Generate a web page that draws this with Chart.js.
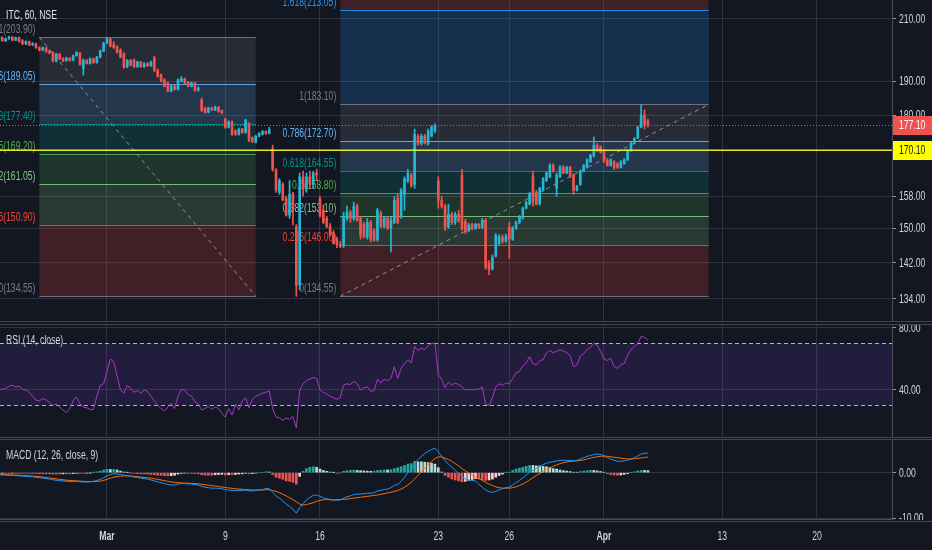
<!DOCTYPE html>
<html>
<head>
<meta charset="utf-8">
<script src="https://cdn.jsdelivr.net/npm/chart.js@4.4.0/dist/chart.umd.min.js"></script>
<style>
  html, body { margin: 0; padding: 0; background: #131722; }
  #wrap { position: relative; width: 932px; height: 550px; overflow: hidden; background: #131722;
          font-family: 'Liberation Sans', Arial, sans-serif; }
  canvas { position: absolute; left: 0; }
  .sep { position: absolute; left: 0; width: 932px; box-sizing: border-box;
         border-top: 1px solid #434651; border-bottom: 1px solid #434651; }
  .legend { position: absolute; left: 6px; color: #d1d4dc; font-size: 12px; line-height: 13px; white-space: nowrap;
            transform: scaleX(0.72); transform-origin: 0 0; }
</style>
</head>
<body>
<div id="wrap">
  <canvas id="price" width="932" height="321" style="top:0"></canvas>
  <div class="sep" style="top:321px;height:4px"></div>
  <canvas id="rsi" width="932" height="112" style="top:325px"></canvas>
  <div class="sep" style="top:437px;height:3px"></div>
  <canvas id="macd" width="932" height="110" style="top:440px"></canvas>
  <div class="sep" style="top:521px;height:1px;border-bottom:none"></div>
  <div class="legend" style="top:9px;color:#e0e3eb">ITC, 60, NSE</div>
  <div class="legend" style="top:334px">RSI (14, close)</div>
  <div class="legend" style="top:449px">MACD (12, 26, close, 9)</div>
</div>
<script>
// x axis: one unit per hourly bar, weekends and holidays skipped
const tickBars = [32, 67, 95, 130, 151, 179, 214, 242];
const tickLabels = ['Mar', '9', '16', '23', '26', 'Apr', '13', '20'];
const priceTicks = [134, 142, 150, 158, 180, 190, 210];
const rsiTicks = [40, 80];
const macdTicks = [-10, 0];

// [open, high, low, close] per bar
const ohlc = [
  [203.3,204.0,203.0,203.8],[203.8,204.1,202.6,202.8],[202.8,203.7,202.5,203.5],[203.5,204.3,203.2,204.0],[204.0,204.2,202.8,203.0],
  [203.0,204.0,202.8,203.8],[203.8,204.0,202.3,202.5],[202.8,203.2,201.5,201.8],[201.8,202.8,201.5,202.5],[202.5,202.7,201.2,201.5],
  [201.5,202.2,201.2,201.8],[201.8,202.0,200.3,200.5],[200.5,200.9,199.5,199.8],[199.8,200.8,199.6,200.5],[200.5,200.7,199.0,199.2],
  [199.4,199.8,198.6,198.8],[199.0,199.2,196.0,196.3],[196.4,198.8,196.0,198.5],[198.5,198.7,196.8,197.0],[197.0,197.4,196.1,196.4],
  [196.4,197.5,196.2,197.2],[197.2,197.4,196.3,196.5],[196.5,198.2,196.3,198.0],[198.0,199.3,197.8,199.0],[198.8,199.0,195.0,195.2],
  [194.0,197.0,191.9,196.5],[196.5,196.8,195.3,195.5],[195.5,197.3,195.3,197.0],[197.0,197.2,195.6,195.8],[195.8,197.8,195.6,197.5],
  [197.5,199.8,197.3,199.5],[199.5,202.3,199.3,202.0],[202.0,203.9,201.8,203.5],[203.3,203.8,200.8,201.0],[201.5,202.5,200.3,200.5],
  [200.8,201.2,198.8,199.0],[199.8,200.2,197.3,197.5],[198.5,199.0,194.0,194.3],[194.5,196.8,194.2,196.5],[196.5,196.8,194.8,195.0],
  [196.5,197.0,194.3,194.5],[194.5,196.3,194.3,196.0],[196.0,196.2,194.3,194.5],[194.5,195.8,194.3,195.5],[195.5,195.8,194.6,194.8],
  [194.8,196.3,194.6,196.0],[197.3,197.8,193.0,193.3],[193.5,193.8,191.3,191.5],[192.0,192.3,189.8,190.0],[190.5,190.8,188.3,188.5],
  [189.5,189.8,186.8,187.0],[187.0,188.8,186.8,188.5],[188.5,188.8,187.3,187.5],[187.5,190.8,187.3,190.5],[190.0,191.5,189.8,190.8],
  [190.8,191.0,189.3,189.5],[189.8,190.0,188.3,188.5],[188.5,189.8,188.3,189.5],[189.5,189.7,187.0,187.3],[187.3,188.3,187.0,188.0],
  [184.5,185.0,181.0,181.3],[182.0,182.3,180.5,180.8],[180.8,182.3,180.6,182.0],[182.0,182.3,181.3,181.5],[181.5,182.6,181.3,182.3],
  [182.3,182.5,180.8,181.0],[181.2,181.5,180.3,180.6],[178.8,179.2,176.2,176.5],[176.5,178.3,176.3,178.0],[178.0,178.3,174.2,174.5],
  [175.5,175.8,174.2,174.5],[174.5,176.3,174.3,176.0],[176.0,176.2,174.8,175.0],[175.0,178.8,174.8,178.5],[177.5,177.8,172.5,172.8],
  [173.5,173.8,172.2,172.5],[172.3,174.3,172.1,174.0],[174.0,175.0,173.8,174.8],[174.5,175.6,174.3,175.3],[175.3,175.5,174.5,174.8],
  [174.8,176.5,174.6,175.8],[170.5,171.5,164.5,165.0],[164.8,165.2,159.0,159.6],[159.0,162.5,158.5,162.0],[161.0,161.5,156.8,157.1],
  [157.5,158.0,153.0,153.3],[153.3,162.0,152.5,158.5],[158.5,159.0,150.9,154.6],[150.4,151.0,134.55,137.0],[137.0,164.0,136.0,163.0],
  [163.0,164.5,158.0,160.0],[160.0,164.0,159.0,163.0],[163.0,164.5,160.0,161.0],[161.0,164.5,160.0,164.0],[164.0,165.0,162.0,163.5],
  [157.3,158.0,152.8,153.1],[154.5,155.8,151.2,151.5],[152.5,153.0,150.2,150.5],[150.5,151.2,148.2,148.5],[149.0,149.5,146.3,146.5],
  [147.5,148.0,145.5,146.1],[146.2,147.0,145.5,145.8],[146.0,154.0,145.5,153.0],[152.5,155.5,152.0,154.0],[154.0,154.5,151.5,152.5],
  [152.5,156.5,152.0,155.5],[155.5,156.0,151.8,152.0],[152.5,153.0,147.5,148.3],[151.0,151.5,147.8,148.0],[148.0,152.5,147.5,151.5],
  [151.5,152.0,146.8,147.5],[149.5,150.0,147.0,147.2],[147.3,155.0,147.0,154.5],[153.8,154.3,150.2,150.5],[150.5,153.0,150.2,152.5],
  [152.5,153.0,149.8,150.0],[150.2,153.0,144.5,152.1],[151.5,158.0,151.2,157.0],[157.5,158.5,151.2,151.5],[153.0,160.0,152.5,159.5],
  [158.5,163.0,154.5,162.5],[162.0,165.0,161.5,164.0],[163.5,164.0,160.3,160.6],[161.0,176.0,160.0,174.5],[174.0,174.5,171.5,171.8],
  [172.0,174.5,171.5,174.0],[174.0,174.5,171.8,172.0],[172.0,176.0,171.5,175.5],[174.0,177.0,173.8,176.5],[175.5,177.5,175.0,177.0],
  [162.0,163.0,155.0,157.0],[157.0,158.0,155.0,155.5],[155.5,156.0,149.5,150.3],[150.5,156.0,150.0,153.5],[153.5,154.0,151.0,151.5],
  [151.5,154.0,151.0,153.5],[153.5,154.5,151.5,152.0],[163.5,165.0,149.5,150.0],[151.8,152.3,148.8,149.2],[149.5,151.3,149.2,150.8],
  [151.0,151.3,149.7,150.0],[150.0,151.3,149.8,151.0],[151.0,151.3,150.0,150.3],[150.3,152.5,150.0,152.0],[152.0,152.5,140.5,141.0],
  [142.0,142.5,139.3,140.5],[140.6,143.8,140.3,143.3],[143.5,148.8,143.3,148.3],[146.5,148.5,146.0,148.0],[148.0,148.5,146.5,147.0],
  [147.0,148.7,146.7,148.2],[150.5,151.5,143.0,147.5],[147.5,150.5,147.2,150.2],[150.0,151.8,149.8,151.5],[151.5,153.2,151.2,152.8],
  [152.5,155.3,152.3,155.0],[155.0,156.8,154.8,156.5],[156.0,159.0,155.8,158.6],[163.2,164.5,155.5,156.5],[159.0,159.5,155.8,156.0],
  [156.0,160.3,155.8,160.0],[159.5,162.8,159.3,162.5],[162.0,164.3,161.8,164.0],[163.0,166.5,162.8,166.0],[166.0,166.5,164.2,164.5],
  [160.0,164.0,158.0,163.5],[163.0,166.0,162.8,165.5],[165.5,166.0,163.8,164.0],[164.0,165.8,163.8,165.5],[165.5,165.8,162.8,163.0],
  [163.5,163.8,158.5,159.5],[159.5,160.8,159.3,160.5],[161.0,164.8,160.8,164.5],[164.5,166.3,164.3,166.0],[165.5,167.8,165.3,167.5],
  [167.0,169.0,166.8,168.8],[168.5,173.8,168.3,171.5],[171.5,172.0,169.8,170.0],[171.0,171.3,169.3,169.5],[170.0,170.3,166.8,167.0],
  [167.5,167.8,165.8,166.0],[166.0,167.8,165.8,167.5],[167.0,167.3,164.9,165.5],[166.5,166.8,165.2,165.5],[165.5,167.3,165.3,167.0],
  [166.5,167.8,166.3,167.5],[167.5,170.3,167.3,170.0],[170.0,172.3,169.8,172.0],[172.0,173.6,171.8,173.3],[173.5,176.8,173.3,176.5],
  [176.5,183.1,176.3,180.0],[180.0,181.5,176.0,177.3],[178.3,178.8,176.5,177.1]
];

const rsi = [
  40,40.5,41,42.5,43,42,42.5,40.5,40,38.5, 36,33.5,33,34.5,33.5,32,30,31,29,27,
  25.5,28,33,35.5,31,29,28.5,27.5,27.5,36, 43,44,52,60,58,49,40,38,43,41,
  38.5,39.5,38,40,39,36,33,30,28,26.5, 29,31.5,28,36,40.5,40,37,36,32.5,31,
  27,28,29.5,27.5,29,28,25,22.5,28,24, 31,27,33,35,28.5,34,36,37,38,38.5,
  39.5,28,22.5,22,20.5,22,21,23,15.5,40, 44,46,47,48,47.5,40,38.5,37.5,36,35,
  34,35,43,44,43.5,45.5,44,40,41.5,42, 39,39.5,47,44.5,47,46,47.5,55,47.5,54,
  57,59.5,57.5,68,65.5,67,66,68.5,70,70.3, 50,47,41.5,45,43,44.5,43.5,42,40,40.5,
  40,40.5,40.5,42,31,30,35,42,44,43, 44.5,44,47.5,51,52,55.5,57.5,61.5,57,56,
  59,59.5,64,65.5,64,65,66,65,64,62, 55,56,62,63.5,66,67.5,70,69,65,60,
  59,60.5,55,54,56.5,57,62.5,66,68,70, 74.5,74,72
];
const rsiBand = [30, 70];

const macdLine = [
  -0.5,-0.5,-0.55,-0.6,-0.6,-0.65,-0.7,-0.75,-0.8,-0.85, -0.9,-1.0,-1.1,-1.2,-1.3,-1.4,-1.55,-1.65,-1.75,-1.8,
  -1.9,-1.95,-1.95,-1.9,-2.0,-2.05,-2.05,-2.0,-1.9,-1.7, -1.5,-1.1,-0.7,-0.4,-0.2,-0.3,-0.4,-0.55,-0.65,-0.8,
  -0.95,-1.05,-1.2,-1.3,-1.4,-1.6,-1.8,-2.0,-2.2,-2.4, -2.6,-2.7,-2.7,-2.5,-2.4,-2.4,-2.45,-2.5,-2.6,-2.7,
  -3.0,-3.2,-3.3,-3.4,-3.4,-3.45,-3.5,-3.75,-3.8,-3.9, -3.95,-3.9,-3.9,-3.8,-4.0,-4.0,-3.9,-3.8,-3.7,-3.5,
  -3.5,-4.3,-5.1,-5.6,-6.2,-6.9,-7.4,-8.0,-8.9,-7.7, -6.8,-6.0,-5.4,-5.0,-4.9,-5.2,-5.5,-5.7,-5.9,-6.0,
  -6.0,-6.0,-5.6,-5.3,-5.1,-4.8,-4.7,-4.7,-4.6,-4.5, -4.5,-4.4,-4.0,-3.9,-3.7,-3.6,-3.3,-2.8,-2.6,-1.9,
  -1.0,0.0,0.8,2.1,2.9,3.6,4.2,4.7,5.1,5.4, 4.6,3.6,2.6,1.9,1.2,0.5,-0.2,-0.8,-1.4,-1.6,
  -1.7,-1.8,-2.5,-3.2,-3.8,-4.2,-4.3,-4.1,-3.8,-3.5, -3.3,-3.2,-2.7,-2.2,-1.7,-1.1,-0.5,0.1,0.5,0.9,
  1.4,1.8,2.1,2.3,2.4,2.6,2.7,2.7,2.7,2.7, 2.6,2.7,3.0,3.3,3.6,3.8,4.0,4.1,4.0,3.7,
  3.3,3.0,2.7,2.5,2.5,2.6,2.8,3.0,3.3,3.7, 4.1,4.3,4.3
];
const signalLine = [
  -0.3,-0.35,-0.4,-0.45,-0.5,-0.5,-0.55,-0.6,-0.65,-0.7, -0.75,-0.8,-0.85,-0.95,-1.05,-1.15,-1.25,-1.35,-1.45,-1.55,
  -1.65,-1.7,-1.75,-1.8,-1.85,-1.9,-1.95,-1.95,-1.95,-1.9, -1.85,-1.7,-1.45,-1.2,-1.0,-0.85,-0.75,-0.7,-0.7,-0.75,
  -0.8,-0.85,-0.95,-1.05,-1.1,-1.2,-1.35,-1.45,-1.6,-1.75, -1.9,-2.05,-2.15,-2.2,-2.25,-2.3,-2.3,-2.35,-2.4,-2.45,
  -2.55,-2.65,-2.75,-2.85,-2.95,-3.05,-3.15,-3.25,-3.35,-3.45, -3.55,-3.6,-3.65,-3.7,-3.75,-3.8,-3.8,-3.8,-3.8,-3.75,
  -3.75,-3.9,-4.1,-4.4,-4.75,-5.1,-5.5,-5.9,-6.4,-6.9, -7.1,-7.0,-6.8,-6.6,-6.3,-6.1,-5.95,-5.9,-5.95,-6.0,
  -5.95,-5.9,-5.85,-5.8,-5.7,-5.6,-5.5,-5.4,-5.3,-5.2, -5.1,-5.0,-4.9,-4.75,-4.6,-4.45,-4.3,-4.1,-3.9,-3.6,
  -3.2,-2.7,-2.1,-1.4,-0.6,0.2,1.0,1.8,2.5,3.1, 3.5,3.45,3.2,2.9,2.5,2.0,1.5,0.9,0.4,-0.1,
  -0.5,-0.9,-1.3,-1.7,-2.1,-2.5,-2.8,-3.1,-3.3,-3.4, -3.4,-3.4,-3.3,-3.1,-2.8,-2.5,-2.1,-1.6,-1.1,-0.6,
  -0.2,0.3,0.7,1.1,1.4,1.7,2.0,2.2,2.35,2.45, 2.55,2.6,2.7,2.8,3.0,3.2,3.35,3.5,3.6,3.65,
  3.6,3.5,3.4,3.3,3.2,3.1,3.05,3.0,3.05,3.15, 3.25,3.35,3.45
];
const macdHist = [
  -0.2,-0.15,-0.15,-0.15,-0.1,-0.15,-0.15,-0.15,-0.15,-0.15, -0.15,-0.2,-0.25,-0.25,-0.25,-0.25,-0.3,-0.3,-0.3,-0.25,
  -0.25,-0.25,-0.2,-0.1,-0.15,-0.15,-0.1,-0.05,0.05,0.2, 0.35,0.6,0.75,0.7,0.75,0.6,0.35,0.15,0.05,-0.05,
  -0.15,-0.2,-0.25,-0.25,-0.3,-0.4,-0.45,-0.55,-0.6,-0.65, -0.7,-0.65,-0.55,-0.3,-0.15,-0.1,-0.15,-0.15,-0.2,-0.25,
  -0.45,-0.55,-0.55,-0.55,-0.45,-0.4,-0.35,-0.5,-0.45,-0.45, -0.4,-0.3,-0.25,-0.1,-0.25,-0.2,-0.1,0.0,0.1,0.2,
  0.15,-0.4,-1.0,-1.2,-1.45,-1.8,-1.9,-2.1,-2.5,-0.8, 0.3,0.9,1.2,1.3,1.2,0.8,0.5,0.3,0.15,0.05,
  -0.1,-0.1,0.3,0.45,0.5,0.55,0.5,0.45,0.4,0.35, 0.3,0.35,0.5,0.55,0.6,0.6,0.65,0.9,1.1,1.3,
  1.6,1.9,2.0,2.5,2.4,2.4,2.3,2.2,2.1,1.9, 1.1,0.15,-0.6,-1.0,-1.4,-1.6,-1.8,-2.0,-1.9,-1.7,
  -1.5,-1.3,-1.4,-1.6,-1.7,-1.6,-1.4,-1.0,-0.6,-0.3, 0.05,0.1,0.5,0.8,1.0,1.2,1.4,1.6,1.6,1.5,
  1.5,1.4,1.3,1.1,0.9,0.8,0.6,0.45,0.35,0.25, 0.1,0.1,0.25,0.35,0.45,0.5,0.5,0.4,0.25,0.1,
  -0.2,-0.4,-0.5,-0.55,-0.5,-0.35,-0.2,0.05,0.2,0.4, 0.5,0.5,0.45
];

const fibLevels = ['0', '0.236', '0.382', '0.5', '0.618', '0.786', '1', '1.618', '2.618'];
const fibColors = ['#787b86', '#f44336', '#81c784', '#4caf50', '#009688', '#64b5f6', '#787b86', '#2196f3', '#f44336'];
const fibLeftPrices = [134.55, 150.90, 161.05, 169.20, 177.40, 189.05, 203.90];
const fibRightPrices = [134.55, 146.00, 153.10, 158.80, 164.55, 172.70, 183.10, 213.05, 261.65];
const fibLeftBars = [12, 76];
const fibRightBars = [101, 210];
const lastPrice = 177.10;
const alertPrice = 170.10;

const X_MIN = 0.355, X_MAX = 264.2;
const UP = '#26b6d2', DOWN = '#ef5350';
const BG = '#131722', GRID = '#2f3340', AXIS = '#4c505b', TEXT = '#d1d4dc';
const FONT = "12px 'Liberation Sans', Arial, sans-serif";
const NARROW = 0.72;   // TradingView's labels are narrower than Liberation Sans

Chart.defaults.font.family = "'Liberation Sans', Arial, sans-serif";
Chart.defaults.font.size = 12;
Chart.defaults.color = TEXT;
Chart.defaults.animation = false;

function rgba(hex, a) {
  const n = parseInt(hex.slice(1), 16);
  return `rgba(${n >> 16},${(n >> 8) & 255},${n & 255},${a})`;
}

function narrowText(ctx, text, x, y, align, font) {
  ctx.save();
  ctx.font = font || FONT;
  ctx.textAlign = align;
  ctx.translate(x, y);
  ctx.scale(NARROW, 1);
  ctx.fillText(text, 0, 0);
  ctx.restore();
}

function xScale(axisHeight) {
  return {
    type: 'linear', min: X_MIN, max: X_MAX, offset: false,
    afterBuildTicks: s => { s.ticks = tickBars.map(v => ({ value: v })); },
    afterFit: s => { s.height = axisHeight; },
    grid: { color: GRID, drawTicks: false, offset: false },
    border: { display: axisHeight > 0, color: AXIS },
    ticks: { display: false }
  };
}

function yScale(extra, ticks) {
  return Object.assign({
    position: 'right',
    afterFit: s => { s.width = 40; },
    afterBuildTicks: s => { s.ticks = ticks.map(v => ({ value: v })); },
    grid: { color: GRID, tickLength: 4, tickColor: '#9598a1' },
    border: { color: AXIS },
    ticks: { display: false }
  }, extra);
}

// axis labels drawn through the scales, with narrowed glyphs
function axisLabels(yTicks, withX) {
  return {
    id: 'axisLabels',
    afterDraw(chart) {
      const { ctx, chartArea: a, scales: { x, y } } = chart;
      ctx.save();
      ctx.fillStyle = TEXT;
      ctx.textBaseline = 'middle';
      yTicks.forEach(v => narrowText(ctx, v.toFixed(2), a.right + 7, y.getPixelForValue(v) + 0.5, 'left'));
      if (withX) {
        tickBars.forEach((b, k) => {
          const lbl = tickLabels[k];
          narrowText(ctx, lbl, x.getPixelForValue(b), a.bottom + 18, 'center',
            (isNaN(+lbl) ? 'bold ' : '') + FONT);
        });
      }
      ctx.restore();
    }
  };
}

const baseOptions = {
  responsive: false,
  animation: false,
  layout: { padding: 0 },
  plugins: { legend: { display: false }, tooltip: { enabled: false } }
};

// ---- price pane ----
const fibPlugin = {
  id: 'fibs',
  beforeDatasetsDraw(chart) {
    const { ctx, chartArea: a, scales: { x, y } } = chart;
    ctx.save();
    ctx.beginPath();
    ctx.rect(a.left, a.top, a.right - a.left, a.bottom - a.top);
    ctx.clip();
    [[fibLeftPrices, fibLeftBars, true], [fibRightPrices, fibRightBars, false]].forEach(([prices, bars, down]) => {
      const x0 = x.getPixelForValue(bars[0]), x1 = x.getPixelForValue(bars[1]);
      for (let k = 1; k < prices.length; k++) {
        const ya = y.getPixelForValue(prices[k - 1]), yb = y.getPixelForValue(prices[k]);
        ctx.fillStyle = rgba(fibColors[k], 0.2);
        ctx.fillRect(x0, yb, x1 - x0, ya - yb);
      }
      ctx.lineWidth = 1;
      prices.forEach((p, k) => {
        const py = Math.round(y.getPixelForValue(p)) + 0.5;
        ctx.strokeStyle = rgba(fibColors[k], 0.9);
        ctx.beginPath(); ctx.moveTo(x0, py); ctx.lineTo(x1, py); ctx.stroke();
      });
      // trend line between the 0 and 1 levels
      const p0 = prices[0], p1 = prices[6];
      ctx.strokeStyle = 'rgba(178,181,190,0.75)';
      ctx.setLineDash([4, 4]);
      ctx.beginPath();
      ctx.moveTo(x0, y.getPixelForValue(down ? p1 : p0));
      ctx.lineTo(x1, y.getPixelForValue(down ? p0 : p1));
      ctx.stroke();
      ctx.setLineDash([]);
      // level labels, left of the drawing
      ctx.textBaseline = 'alphabetic';
      prices.forEach((p, k) => {
        const py = y.getPixelForValue(p);
        if (py < 0) return;
        ctx.fillStyle = fibColors[k];
        narrowText(ctx, `${fibLevels[k]}(${p.toFixed(2)})`, x0 - 4, py - 4, 'right');
      });
    });
    ctx.restore();
  }
};

const priceLinesPlugin = {
  id: 'priceLines',
  afterDatasetsDraw(chart) {
    const { ctx, chartArea: a, scales: { y } } = chart;
    ctx.save();
    const ya = y.getPixelForValue(alertPrice);
    ctx.strokeStyle = 'rgba(255,255,40,0.9)';
    ctx.lineWidth = 1.5;
    ctx.beginPath(); ctx.moveTo(a.left, ya); ctx.lineTo(a.right, ya); ctx.stroke();
    const yl = Math.round(y.getPixelForValue(lastPrice)) + 0.5;
    ctx.strokeStyle = DOWN;
    ctx.lineWidth = 1;
    ctx.setLineDash([1, 2]);
    ctx.beginPath(); ctx.moveTo(a.left, yl); ctx.lineTo(a.right, yl); ctx.stroke();
    ctx.restore();
  },
  afterDraw(chart) {
    const { ctx, chartArea: a, scales: { y } } = chart;
    ctx.save();
    ctx.textBaseline = 'middle';
    [[lastPrice, DOWN, '#ffffff'], [alertPrice, '#ffff00', '#131722']].forEach(([p, bg, fg]) => {
      const py = y.getPixelForValue(p);
      ctx.fillStyle = bg;
      ctx.fillRect(a.right + 1, Math.round(py) - 9, chart.width - a.right, 19);
      ctx.fillStyle = fg;
      narrowText(ctx, p.toFixed(2), a.right + 7, py + 0.5, 'left');
    });
    ctx.restore();
  }
};

const candleColors = ohlc.map(d => d[3] >= d[0] ? UP : DOWN);

new Chart(document.getElementById('price'), {
  type: 'bar',
  data: {
    datasets: [
      { data: ohlc.map((d, i) => ({ x: i, y: [d[2], d[1]] })), backgroundColor: candleColors,
        barThickness: 1, grouped: false, order: 2 },
      { data: ohlc.map((d, i) => ({ x: i, y: [d[0], d[3]] })), backgroundColor: candleColors,
        barThickness: 2, minBarLength: 1, grouped: false, order: 1 }
    ]
  },
  options: Object.assign({}, baseOptions, {
    scales: {
      x: xScale(0),
      y: yScale({ type: 'logarithmic', min: 129.33, max: 216.5 }, priceTicks)
    }
  }),
  plugins: [fibPlugin, axisLabels(priceTicks, false), priceLinesPlugin]
});

// ---- RSI pane ----
const rsiBandPlugin = {
  id: 'rsiBand',
  beforeDatasetsDraw(chart) {
    const { ctx, chartArea: a, scales: { y } } = chart;
    const yTop = y.getPixelForValue(rsiBand[1]), yBot = y.getPixelForValue(rsiBand[0]);
    ctx.save();
    ctx.fillStyle = 'rgba(120,60,200,0.16)';
    ctx.fillRect(a.left, yTop, a.right - a.left, yBot - yTop);
    ctx.strokeStyle = '#b2b5be';
    ctx.lineWidth = 1;
    ctx.setLineDash([4, 3]);
    [yTop, yBot].forEach(py => {
      const yy = Math.round(py) + 0.5;
      ctx.beginPath(); ctx.moveTo(a.left, yy); ctx.lineTo(a.right, yy); ctx.stroke();
    });
    ctx.restore();
  }
};

new Chart(document.getElementById('rsi'), {
  type: 'line',
  data: {
    datasets: [{
      data: rsi.map((v, i) => ({ x: i, y: v })),
      borderColor: '#a23cc4', borderWidth: 1, pointRadius: 0, tension: 0
    }]
  },
  options: Object.assign({}, baseOptions, {
    scales: { x: xScale(0), y: yScale({ type: 'linear', min: 9.68, max: 81.9 }, rsiTicks) }
  }),
  plugins: [rsiBandPlugin, axisLabels(rsiTicks, false)]
});

// ---- MACD pane ----
const histColors = macdHist.map((h, i) => {
  const prev = i ? macdHist[i - 1] : h;
  if (h >= 0) return prev < h ? '#26a69a' : '#b2dfdb';
  return prev < h ? '#ffcdd2' : '#ef5350';
});

const coverPlugin = {
  id: 'cover',
  afterDraw(chart) {
    const { ctx, chartArea: a } = chart;
    ctx.save();
    ctx.fillStyle = BG;
    ctx.fillRect(a.right + 1, a.bottom + 1, chart.width - a.right, chart.height - a.bottom);
    ctx.restore();
  }
};

new Chart(document.getElementById('macd'), {
  type: 'bar',
  data: {
    datasets: [
      { type: 'line', data: macdLine.map((v, i) => ({ x: i, y: v })), borderColor: '#2196f3',
        borderWidth: 1, pointRadius: 0, tension: 0, order: 1 },
      { type: 'line', data: signalLine.map((v, i) => ({ x: i, y: v })), borderColor: '#ff6d00',
        borderWidth: 1, pointRadius: 0, tension: 0, order: 2 },
      { type: 'bar', data: macdHist.map((v, i) => ({ x: i, y: v })), backgroundColor: histColors,
        barThickness: 2, grouped: false, order: 3 }
    ]
  },
  options: Object.assign({}, baseOptions, {
    scales: { x: xScale(31), y: yScale({ type: 'linear', min: -10.18, max: 7.19 }, macdTicks) }
  }),
  plugins: [axisLabels(macdTicks, true), coverPlugin]
});
</script>
</body>
</html>
